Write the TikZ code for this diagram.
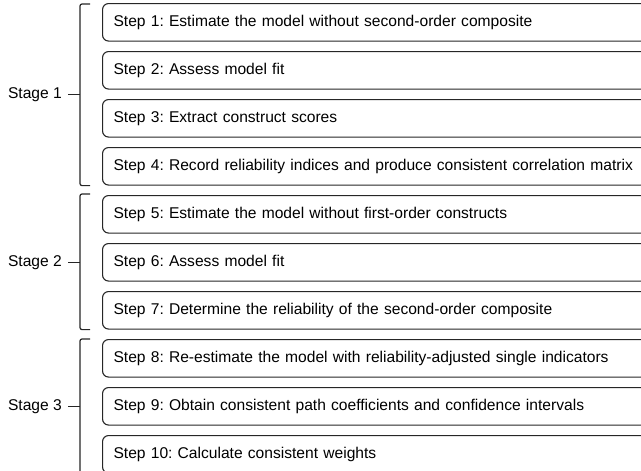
\documentclass[tikz,border=0pt]{standalone}
\usepackage{fontspec}
\setmainfont{Liberation Sans}
\usetikzlibrary{calc,positioning}
\frenchspacing
\tikzset{
	stepbox/.style={draw=black!85, line width=1.1pt, rounded corners=6pt, anchor=north west,
		minimum height=37.5pt, text width=538pt, inner xsep=11pt, align=left,
		font=\fontsize{15.6}{18}\selectfont},
	stagebrace/.style={draw=black!85, line width=1.2pt, rounded corners=2pt},
	stagelabel/.style={anchor=east, inner sep=0pt, font=\fontsize{15.6}{18}\selectfont},
}

\begin{document}
\begin{tikzpicture}[x=1pt, y=-1pt]
			%%%%% START %%%%%
			
			\useasboundingbox (0, 0) rectangle (641, 471);
			\clip (0, 0) rectangle (641, 471);
			
			\node[stepbox] (step1) at (102, 3) {Step 1: Estimate the model without second-order composite};
			\node[stepbox] (step2) at (102, 51) {Step 2: Assess model fit};
			\node[stepbox] (step3) at (102, 99) {Step 3: Extract construct scores};
			\node[stepbox] (step4) at (102, 147) {Step 4: Record reliability indices and produce consistent correlation matrix};
			
			\node[stepbox] (step5) at (102, 195) {Step 5: Estimate the model without first-order constructs};
			\node[stepbox] (step6) at (102, 243) {Step 6: Assess model fit};
			\node[stepbox] (step7) at (102, 291) {Step 7: Determine the reliability of the second-order composite};
			
			\node[stepbox] (step8) at (102, 339) {Step 8: Re-estimate the model with reliability-adjusted single indicators};
			\node[stepbox] (step9) at (102, 387) {Step 9: Obtain consistent path coefficients and confidence intervals};
			\node[stepbox] (step10) at (102, 435) {Step 10: Calculate consistent weights};
			
			% braces
			\draw[stagebrace] ($(step1.north west)+(-12, 1)$) -- ($(step1.north west)+(-22, 1)$) -- ($(step4.south west)+(-22, 0)$) -- ($(step4.south west)+(-12, 0)$);
			\draw[stagebrace] ($(step5.north west)+(-12, -1)$) -- ($(step5.north west)+(-22, -1)$) -- ($(step7.south west)+(-22, 0)$) -- ($(step7.south west)+(-12, 0)$);
			\draw[stagebrace] ($(step8.north west)+(-12, 0)$) -- ($(step8.north west)+(-22, 0)$) -- ($(step10.south west)+(-22, 0)$) -- ($(step10.south west)+(-12, 0)$);
			
			\coordinate (tip1) at ($(step1.north west)!0.5!(step4.south west)+(-22, 0)$);
			\coordinate (tip2) at ($(step5.north west)!0.5!(step7.south west)+(-22, 0)$);
			\coordinate (tip3) at ($(step8.north west)!0.5!(step10.south west)+(-22, 0)$);
			
			\draw[stagebrace] (tip1) -- ++(-12, 0);
			\draw[stagebrace] (tip2) -- ++(-12, 0);
			\draw[stagebrace] (tip3) -- ++(-12, 0);
			
			\node[stagelabel] (stage1) at ($(tip1)+(-18, 0)$) {Stage 1};
			\node[stagelabel] (stage2) at ($(tip2)+(-18, 0)$) {Stage 2};
			\node[stagelabel] (stage3) at ($(tip3)+(-18, 0)$) {Stage 3};
			
			%%%%% END %%%%%
\end{tikzpicture}
\end{document}
